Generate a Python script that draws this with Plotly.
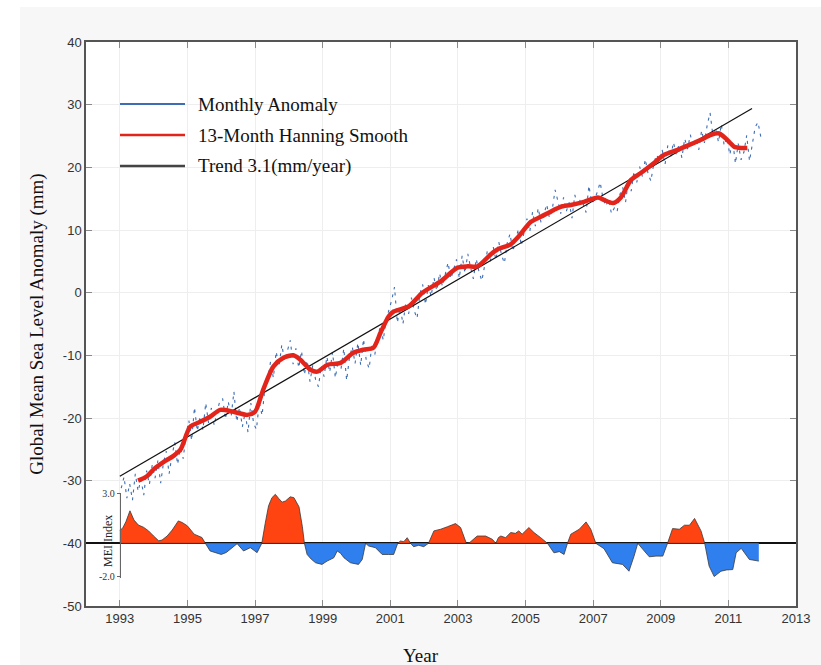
import numpy as np
import plotly.graph_objects as go

# ---- Global mean sea level, monthly anomaly (mm), Jan 1993 .. Dec 2011 ----
monthly_anomaly = [
    # 1993
    -31.2, -29.4, -32.8, -30.5, -33.1, -28.9, -31.7, -29.8, -32.3, -28.4, -30.6, -27.5,
    # 1994
    -29.6, -26.8, -30.4, -27.1, -25.3, -28.9, -26.0, -23.9, -27.4, -24.8, -26.5, -22.6,
    # 1995
    -20.4, -23.6, -18.3, -22.1, -19.7, -21.9, -17.6, -20.8, -18.4, -21.2, -19.0, -17.3,
    # 1996
    -16.9, -20.2, -17.4, -19.8, -15.8, -20.6, -18.3, -21.4, -19.1, -22.3, -17.6, -20.9,
    # 1997
    -21.8, -17.5, -19.6, -15.2, -13.9, -11.0, -13.6, -9.4, -11.8, -8.3, -10.9, -9.1,
    # 1998
    -7.6, -11.4, -8.9, -12.0, -9.3, -13.1, -10.8, -14.2, -11.5, -13.9, -15.0, -11.7,
    # 1999
    -13.4, -10.2, -12.7, -9.5, -13.6, -10.8, -12.2, -8.9, -14.0, -10.4, -8.6, -11.3,
    # 2000
    -8.0, -11.6, -7.4, -10.9, -12.1, -8.2, -9.9, -7.1, -5.3, -7.6, -4.4, -2.8,
    # 2001
    -1.2, 0.9, -4.8, -2.3, -5.0, -1.6, -3.4, -0.8, -2.9, -4.1, -0.2, 1.3,
    # 2002
    -1.9, 1.2, -0.6, 2.4, 0.3, 3.1, 1.0, 2.9, 4.8, 2.2, 3.6, 5.3,
    # 2003
    2.3, 5.9, 3.1, 6.2, 4.0, 2.2, 5.4, 3.3, 1.9, 4.7, 6.8, 5.0,
    # 2004
    7.4, 5.2, 8.1, 6.0, 4.7, 7.9, 9.4, 6.6, 8.3, 10.2, 7.5, 9.6,
    # 2005
    11.8, 9.7, 12.9, 10.6, 13.5, 11.2, 12.4, 14.1, 11.9, 13.3, 16.4, 14.6,
    # 2006
    12.6, 15.2, 13.0, 14.4, 11.9, 15.6, 13.8, 14.9, 14.1, 12.8, 17.1, 14.3,
    # 2007
    14.8, 16.1, 17.6, 15.0, 13.8, 14.9, 12.6, 13.5, 12.9, 15.7, 16.8, 14.4,
    # 2008
    17.9, 16.2, 19.4, 17.6, 20.1, 18.5, 21.3, 19.0, 17.8, 20.6, 22.0, 21.1,
    # 2009
    22.8, 20.4, 23.5, 21.6, 24.0, 22.1, 23.7, 21.5, 24.6, 22.9, 25.2, 23.3,
    # 2010
    24.6, 22.8, 25.9, 23.9, 26.8, 28.7, 25.1, 26.2, 24.0, 26.9, 23.5, 24.8,
    # 2011
    22.0, 24.3, 20.6, 23.8, 21.2, 22.4, 25.1, 21.0, 23.6, 26.4, 27.2, 24.9,
]
first_year = 1993
monthly_years = first_year + (np.arange(len(monthly_anomaly)) + 0.5) / 12.0

# ---- 13-month Hanning smooth (mm) ----
smooth_years = [
    1993.54, 1993.8, 1994.0, 1994.3, 1994.6, 1994.8, 1995.08, 1995.38, 1995.67, 1995.97,
    1996.36, 1996.77, 1997.0, 1997.24, 1997.54, 1997.84, 1998.13, 1998.34, 1998.64, 1998.84,
    1999.14, 1999.53, 1999.91, 2000.21, 2000.5, 2000.71, 2000.95, 2001.1, 2001.54, 2001.95,
    2002.49, 2002.99, 2003.29, 2003.58, 2003.97, 2004.17, 2004.56, 2004.77, 2005.16, 2005.45,
    2005.84, 2006.04, 2006.34, 2006.73, 2007.14, 2007.32, 2007.59, 2007.82, 2008.12, 2008.41,
    2008.8, 2009.1, 2009.5, 2009.85, 2010.19, 2010.49, 2010.73, 2010.96, 2011.17, 2011.38,
    2011.56,
]
smooth_values = [
    -30.0, -29.3, -28.2, -27.0, -26.0, -25.0, -21.4, -20.6, -19.8, -18.7,
    -19.0, -19.5, -19.0, -15.5, -11.8, -10.4, -10.0, -10.7, -12.3, -12.6,
    -11.5, -11.2, -9.6, -9.1, -8.8, -6.4, -3.8, -3.0, -2.2, 0.0,
    1.8, 4.0, 4.2, 4.2, 6.1, 6.9, 7.7, 8.8, 11.3, 12.1,
    13.2, 13.7, 14.0, 14.5, 15.2, 14.8, 14.3, 15.2, 18.0, 19.1,
    20.7, 22.0, 22.8, 23.6, 24.4, 25.2, 25.4, 24.4, 23.3, 23.1,
    23.1,
]

# ---- Linear trend, 3.1 mm/year ----
trend_years = [1993.0, 2011.7]
trend_values = [-29.3, 29.4]

# ---- Multivariate ENSO Index ----
mei_years = [
    1993.00, 1993.08, 1993.18, 1993.30, 1993.42, 1993.55, 1993.70, 1993.85, 1994.00, 1994.15,
    1994.25, 1994.40, 1994.55, 1994.73, 1994.85, 1995.00, 1995.20, 1995.43, 1995.53, 1995.67,
    1995.85, 1996.00, 1996.15, 1996.27, 1996.47, 1996.66, 1996.86, 1997.06, 1997.20, 1997.30,
    1997.40, 1997.50, 1997.60, 1997.70, 1997.80, 1997.90, 1998.04, 1998.15, 1998.30, 1998.40,
    1998.46, 1998.54, 1998.66, 1998.79, 1998.98, 1999.13, 1999.33, 1999.43, 1999.53, 1999.63,
    1999.82, 2000.06, 2000.17, 2000.27, 2000.36, 2000.56, 2000.76, 2000.95, 2001.10, 2001.22,
    2001.30, 2001.40, 2001.50, 2001.60, 2001.69, 2001.84, 2001.99, 2002.13, 2002.29, 2002.49,
    2002.69, 2002.85, 2002.93, 2003.08, 2003.25, 2003.35, 2003.50, 2003.57, 2003.82, 2004.02,
    2004.12, 2004.20, 2004.27, 2004.41, 2004.56, 2004.70, 2004.80, 2004.90, 2005.10, 2005.25,
    2005.45, 2005.65, 2005.84, 2006.00, 2006.14, 2006.24, 2006.34, 2006.59, 2006.79, 2006.93,
    2007.08, 2007.32, 2007.57, 2007.87, 2008.06, 2008.21, 2008.32, 2008.47, 2008.66, 2008.86,
    2009.06, 2009.20, 2009.35, 2009.55, 2009.70, 2009.85, 2010.00, 2010.19, 2010.30, 2010.43,
    2010.58, 2010.78, 2010.95, 2011.13, 2011.23, 2011.38, 2011.62, 2011.90,
]
mei_values = [
    0.80, 0.90, 1.30, 1.96, 1.40, 1.10, 0.97, 0.75, 0.44, 0.15,
    0.20, 0.44, 0.80, 1.35, 1.25, 1.05, 0.55, 0.35, 0.00, -0.46,
    -0.60, -0.67, -0.55, -0.36, -0.02, -0.46, -0.26, -0.56, 0.00, 1.20,
    2.26, 2.75, 2.95, 2.70, 2.48, 2.55, 2.80, 2.75, 2.20, 1.00,
    0.00, -0.67, -0.95, -1.17, -1.27, -1.07, -0.87, -0.46, -0.60, -0.87,
    -1.17, -1.27, -0.97, 0.00, -0.16, -0.26, -0.67, -0.67, -0.67, 0.00,
    0.14, 0.10, 0.34, 0.00, -0.20, -0.12, -0.20, 0.00, 0.75, 0.85,
    1.00, 1.10, 1.19, 0.95, 0.00, 0.05, 0.30, 0.44, 0.44, 0.24,
    0.00, 0.35, 0.44, 0.34, 0.65, 0.60, 0.75, 0.55, 0.95, 0.65,
    0.34, 0.00, -0.57, -0.50, -0.67, 0.00, 0.55, 0.85, 1.29, 0.85,
    0.00, -0.32, -1.17, -1.27, -1.68, -0.77, 0.00, -0.36, -0.81, -0.77,
    -0.77, 0.00, 0.89, 0.85, 1.09, 1.09, 1.50, 0.75, 0.00, -1.37,
    -2.00, -1.68, -1.60, -1.58, -0.57, -0.30, -0.97, -1.07,
]

year_ticks = list(range(1993, 2014, 2))
sea_ticks = list(range(-50, 41, 10))
sea_tick_text = [str(v) for v in sea_ticks]      # plain hyphen minus

# ---- axis geometry ----
X_RANGE = [1992, 2013]
Y_RANGE = [-50, 40]
MEI_BASE = -40.0      # sea-level value where MEI = 0 sits
MEI_SCALE = 2.65      # mm of the main axis per MEI unit
MEI_RANGE = [-2.06, 3.04]


def to_frac(v):
    return (v - Y_RANGE[0]) / (Y_RANGE[1] - Y_RANGE[0])


mei_domain = [to_frac(MEI_BASE + MEI_RANGE[0] * MEI_SCALE),
              to_frac(MEI_BASE + MEI_RANGE[1] * MEI_SCALE)]
mei_position = (1993 - X_RANGE[0]) / (X_RANGE[1] - X_RANGE[0])

mei = np.array(mei_values)
mei_pos = np.maximum(mei, 0.0)
mei_neg = np.minimum(mei, 0.0)

SERIF = "Liberation Serif, Times New Roman, serif"
NARROW = "Liberation Sans Narrow, Arial Narrow, Liberation Sans, Arial, sans-serif"

BLUE = "#3c6db5"
RED = "#e3241b"
ORANGE = "#ff4412"
MEI_BLUE = "#2f80ee"

fig = go.Figure()

# ENSO index panel
fig.add_trace(go.Scatter(
    x=mei_years, y=mei_pos, xaxis="x", yaxis="y2", mode="lines",
    fill="tozeroy", fillcolor=ORANGE, line=dict(color="#3a3a3a", width=0.8),
    showlegend=False, hoverinfo="skip"))
fig.add_trace(go.Scatter(
    x=mei_years, y=mei_neg, xaxis="x", yaxis="y2", mode="lines",
    fill="tozeroy", fillcolor=MEI_BLUE, line=dict(color="#3a3a3a", width=0.8),
    showlegend=False, hoverinfo="skip"))

# Sea level series
fig.add_trace(go.Scatter(
    x=monthly_years, y=monthly_anomaly, mode="lines", name="Monthly Anomaly",
    line=dict(color=BLUE, width=1.1, dash="3px,5px"), showlegend=False))
fig.add_trace(go.Scatter(
    x=trend_years, y=trend_values, mode="lines", name="Trend 3.1(mm/year)",
    line=dict(color="#111111", width=1.2), showlegend=False))
fig.add_trace(go.Scatter(
    x=smooth_years, y=smooth_values, mode="lines", name="13-Month Hanning Smooth",
    line=dict(color=RED, width=4.5, shape="spline", smoothing=0.7), showlegend=False))

axis_common = dict(
    showline=True, linecolor="#555555", linewidth=1.5, mirror="ticks",
    ticks="inside", ticklen=6, tickcolor="#8a8a8a", tickwidth=1,
    showgrid=True, gridcolor="#eeeeee", gridwidth=1, zeroline=False,
    tickfont=dict(family=NARROW, size=13, color="#333333"),
)

fig.update_layout(
    width=821, height=665,
    margin=dict(l=86, r=25, t=42, b=59),
    paper_bgcolor="white", plot_bgcolor="rgba(0,0,0,0)",
    xaxis=dict(range=X_RANGE, tickvals=year_ticks, **axis_common),
    yaxis=dict(range=Y_RANGE, tickvals=sea_ticks, ticktext=sea_tick_text, domain=[0, 1],
               title=dict(text="Global Mean Sea Level Anomaly (mm)",
                          font=dict(family=SERIF, size=19, color="#111111"),
                          standoff=14),
               **axis_common),
    yaxis2=dict(
        domain=mei_domain, range=MEI_RANGE, anchor="free", position=mei_position,
        side="left", showgrid=False, showline=True, linecolor="#666666", linewidth=1,
        ticks="outside", ticklen=3, tickcolor="#666666",
        tickvals=[-2, 3], ticktext=["-2.0", "3.0"],
        tickfont=dict(family=SERIF, size=10, color="#333333"),
        zeroline=True, zerolinecolor="#111111", zerolinewidth=1.6,
    ),
    showlegend=False,
)

# panel background and white plotting area
fig.add_shape(type="rect", xref="paper", yref="paper", layer="below",
              x0=(20 - 86) / 710, x1=(821 - 86) / 710 + 0.01,
              y0=(606 - 666) / 564, y1=(606 - 7) / 564,
              fillcolor="#f7f7f7", line=dict(width=0))
fig.add_shape(type="rect", xref="paper", yref="paper", layer="below",
              x0=0, x1=1, y0=0, y1=1,
              fillcolor="white", line=dict(width=0))

# index axis caption, set between the two tick labels
fig.add_annotation(text="MEI Index", xref="paper", yref="paper",
                   x=(108 - 86) / 710, y=(606 - 541) / 564, textangle=-90,
                   xanchor="center", yanchor="middle",
                   showarrow=False, font=dict(family=SERIF, size=12, color="#222222"))

# x-axis title
fig.add_annotation(text="Year", xref="paper", yref="paper",
                   x=(421 - 86) / 710, y=(606 - 655) / 564,
                   xanchor="center", yanchor="middle",
                   showarrow=False, font=dict(family=SERIF, size=19, color="#111111"))

# key
legend_rows = [("Monthly Anomaly", BLUE, 2.2),
               ("13-Month Hanning Smooth", RED, 2.6),
               ("Trend 3.1(mm/year)", "#444444", 2.6)]
for i, (label, colour, lw) in enumerate(legend_rows):
    yy = (606 - (104 + 31 * i)) / 564
    fig.add_shape(type="line", xref="paper", yref="paper",
                  x0=(120 - 86) / 710, x1=(185 - 86) / 710, y0=yy, y1=yy,
                  line=dict(color=colour, width=lw))
    fig.add_annotation(text=label, xref="paper", yref="paper",
                       x=(196 - 86) / 710, y=yy, xanchor="left", yanchor="middle",
                       showarrow=False,
                       font=dict(family=SERIF, size=19, color="#111111"))

fig.write_html("out.html")
